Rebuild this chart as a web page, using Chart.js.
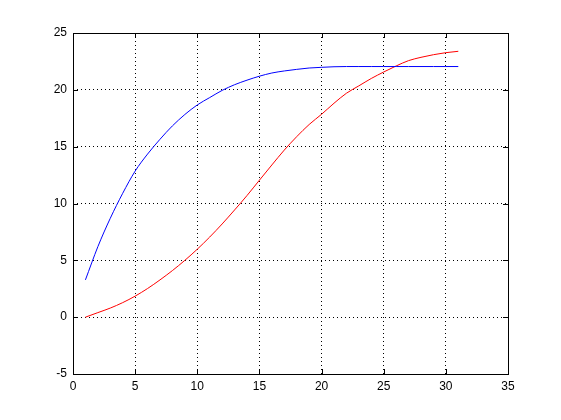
<!DOCTYPE html>
<html>
<head>
<meta charset="utf-8">
<script src="https://cdn.jsdelivr.net/npm/chart.js@4"></script>
<style>
  body { margin: 0; background: #fff; }
  canvas { display: block; }
</style>
</head>
<body>
<canvas id="plot" width="561" height="420"></canvas>
<script>
// Dados
const xValues = [1, 2, 3, 4, 5, 6, 7, 8, 9, 10, 11, 12, 13, 14, 15, 16,
  17, 18, 19, 20, 21, 22, 23, 24, 25, 26, 27, 28, 29, 30, 31];
const blueValues = [3.28, 6.2, 8.7, 10.9, 12.85, 14.35, 15.65, 16.83, 17.83, 18.67,
  19.32, 19.95, 20.45, 20.85, 21.2, 21.48, 21.66, 21.8, 21.92, 21.98,
  22.03, 22.05, 22.05, 22.05, 22.05, 22.05, 22.05, 22.05, 22.05, 22.05, 22.05];
const redValues = [0, 0.4, 0.8, 1.28, 1.85, 2.52, 3.28, 4.1, 5.0, 5.98,
  7.05, 8.2, 9.43, 10.7, 12.05, 13.39, 14.7, 15.88, 16.95, 17.85,
  18.82, 19.7, 20.35, 21.0, 21.57, 22.1, 22.57, 22.86, 23.09, 23.27, 23.39];
const xTicks = [0, 5, 10, 15, 20, 25, 30, 35];
const yTicks = [-5, 0, 5, 10, 15, 20, 25];

const toPoints = (ys) => xValues.map((x, i) => ({ x: x, y: ys[i] }));

// Moldura e marcas para dentro, estilo MATLAB
const matlabAxes = {
  id: 'matlabAxes',
  afterDraw(chart) {
    const { ctx, chartArea: a, scales } = chart;
    const len = 5;
    ctx.save();
    ctx.strokeStyle = '#000';
    ctx.lineWidth = 1;
    ctx.beginPath();
    xTicks.forEach(v => {
      const px = Math.round(scales.x.getPixelForValue(v)) + 0.5;
      ctx.moveTo(px, a.bottom); ctx.lineTo(px, a.bottom - len);
      ctx.moveTo(px, a.top); ctx.lineTo(px, a.top + len);
    });
    yTicks.forEach(v => {
      const py = Math.round(scales.y.getPixelForValue(v)) + 0.5;
      ctx.moveTo(a.left, py); ctx.lineTo(a.left + len, py);
      ctx.moveTo(a.right, py); ctx.lineTo(a.right - len, py);
    });
    ctx.stroke();
    ctx.strokeRect(Math.round(a.left) + 0.5, Math.round(a.top) + 0.5,
      Math.round(a.right - a.left), Math.round(a.bottom - a.top));
    ctx.restore();
  }
};

const tickFont = { family: 'Liberation Sans, Arial, sans-serif', size: 12 };

new Chart(document.getElementById('plot'), {
  type: 'line',
  data: {
    datasets: [
      { data: toPoints(blueValues), borderColor: '#0000ff', borderWidth: 1, pointRadius: 0, cubicInterpolationMode: 'monotone' },
      { data: toPoints(redValues), borderColor: '#ff0000', borderWidth: 1, pointRadius: 0, cubicInterpolationMode: 'monotone' }
    ]
  },
  options: {
    responsive: false,
    animation: false,
    layout: { padding: { top: 33, right: 53, left: 0, bottom: 0 } },
    plugins: { legend: { display: false }, tooltip: { enabled: false } },
    scales: {
      x: {
        type: 'linear', min: 0, max: 35,
        afterBuildTicks: s => { s.ticks = xTicks.map(v => ({ value: v })); },
        afterFit: s => { s.height = 46; },
        grid: { color: '#000', lineWidth: 1, drawTicks: false },
        border: { display: false, dash: [1, 3] },
        ticks: { color: '#000', font: tickFont, padding: 5, maxRotation: 0 }
      },
      y: {
        type: 'linear', min: -5, max: 25,
        afterBuildTicks: s => { s.ticks = yTicks.map(v => ({ value: v })); },
        afterFit: s => { s.width = 73; },
        grid: { color: '#000', lineWidth: 1, drawTicks: false },
        border: { display: false, dash: [1, 3] },
        ticks: { color: '#000', font: tickFont, padding: 6 }
      }
    }
  },
  plugins: [matlabAxes]
});
</script>
</body>
</html>
